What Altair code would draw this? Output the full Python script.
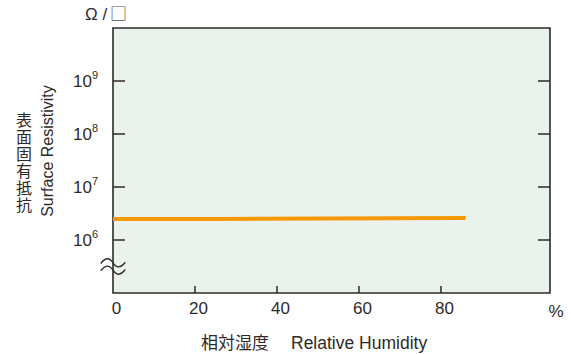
import altair as alt
import pandas as pd

# ---- data ----
rh_values = [0, 25, 86]                 # relative humidity (%)
resistivity = [2.5e6, 2.5e6, 2.6e6]     # surface resistivity (ohm/sq)
x_tick_values = [0, 20, 40, 60, 80]
y_tick_values = [1e6, 1e7, 1e8, 1e9]
y_tick_exponents = ["6", "7", "8", "9"]
break_rh = [0]
break_res = [10 ** 5.5]

W, H = 437, 265
DARK = "#2f2a28"
LAT = "Liberation Sans"
CJK = "Noto Sans CJK JP"

line_df = pd.DataFrame({"rh": rh_values, "res": resistivity})
xt_df = pd.DataFrame({"rh": x_tick_values[1:]})
yt_df = pd.DataFrame({"res": y_tick_values, "exp": y_tick_exponents})
brk_df = pd.DataFrame({"rh": break_rh, "res": break_res})
one = pd.DataFrame({"k": [0]})

x_scale = alt.Scale(domain=[0, 106.6], nice=False, zero=False)
y_scale = alt.Scale(type="log", domain=[1e5, 1e10], nice=False)

X = alt.X("rh:Q", scale=x_scale, title=None,
          axis=alt.Axis(values=x_tick_values, ticks=False, tickSize=0, domain=False,
                        grid=False, labelFontSize=17, labelFont=LAT, labelColor=DARK,
                        labelPadding=7, labelOffset=3, labelFlush=False, title=None))
Y = alt.Y("res:Q", scale=y_scale, title=None, axis=None)

line = alt.Chart(line_df).mark_line(color="#f39800", strokeWidth=4).encode(x=X, y=Y)

xticks = alt.Chart(xt_df).mark_rule(color=DARK, strokeWidth=1.5).encode(
    x=X, y=alt.value(H), y2=alt.value(H - 7))
yticks_l = alt.Chart(yt_df).mark_rule(color=DARK, strokeWidth=1.5).encode(
    y=Y, x=alt.value(0), x2=alt.value(12))
yticks_r = alt.Chart(yt_df).mark_rule(color=DARK, strokeWidth=1.5).encode(
    y=Y, x=alt.value(W - 12), x2=alt.value(W))

ylab_base = alt.Chart(yt_df).mark_text(text="10", font=LAT, fontSize=17, color=DARK,
                                       align="right", baseline="middle", dy=1).encode(
    y=Y, x=alt.value(-21))
ylab_exp = alt.Chart(yt_df).mark_text(font=LAT, fontSize=11, color=DARK,
                                      align="left", baseline="middle", dy=-5).encode(
    y=Y, x=alt.value(-21), text="exp:N")

wave = ("M-1,-0.25 C-0.6,-0.75 -0.3,-0.75 0,-0.3 C0.3,0.15 0.6,0.15 1,-0.35 "
        "M-1,0.35 C-0.6,-0.15 -0.3,-0.15 0,0.3 C0.3,0.75 0.6,0.75 1,0.25")
brk = alt.Chart(brk_df).mark_point(shape=wave, size=600, filled=False, stroke=DARK,
                                   strokeWidth=1.4, opacity=1).encode(x=X, y=Y)

pct = alt.Chart(one).mark_text(text="%", font=LAT, fontSize=17, color=DARK,
                               baseline="middle", align="center").encode(
    x=alt.value(443), y=alt.value(284))
unit_o = alt.Chart(one).mark_text(text="Ω /", font=LAT, fontSize=17, color=DARK,
                                  baseline="middle", align="left").encode(
    x=alt.value(-28), y=alt.value(-13))
unit_sq = alt.Chart(one).mark_text(text="□", font=CJK, fontSize=17, color="#555555",
                                   baseline="middle", align="left").encode(
    x=alt.value(-3), y=alt.value(-13))
ytitle_en = alt.Chart(one).mark_text(text="Surface Resistivity", font=LAT, fontSize=16,
                                     color=DARK, angle=270, baseline="middle",
                                     align="center").encode(
    x=alt.value(-65), y=alt.value(123))
ytitle_ja = alt.Chart(one).mark_text(text=["表", "面", "固", "有", "抵", "抗"],
                                     font=CJK, fontSize=16, lineHeight=17,
                                     color=DARK, baseline="top", align="center").encode(
    x=alt.value(-89), y=alt.value(85))
xtitle_ja = alt.Chart(one).mark_text(text="相対湿度", font=CJK, fontSize=17, color=DARK,
                                     baseline="middle", align="center").encode(
    x=alt.value(122), y=alt.value(316))
xtitle_en = alt.Chart(one).mark_text(text="Relative Humidity", font=LAT, fontSize=17.5,
                                     color=DARK, baseline="middle", align="left").encode(
    x=alt.value(178), y=alt.value(316))

chart = alt.layer(line, xticks, yticks_l, yticks_r, ylab_base, ylab_exp, brk, pct,
                  unit_o, unit_sq, ytitle_en, ytitle_ja, xtitle_ja, xtitle_en).properties(
    width=W, height=H,
    padding={"left": 113, "top": 28, "right": 21, "bottom": 61},
    autosize=alt.AutoSizeParams(type="none"),
    background="white",
).configure_view(fill="#e9f3ec", stroke=DARK, strokeWidth=1.6)

chart.save("out.html", embed_options={"renderer": "svg", "actions": False})
